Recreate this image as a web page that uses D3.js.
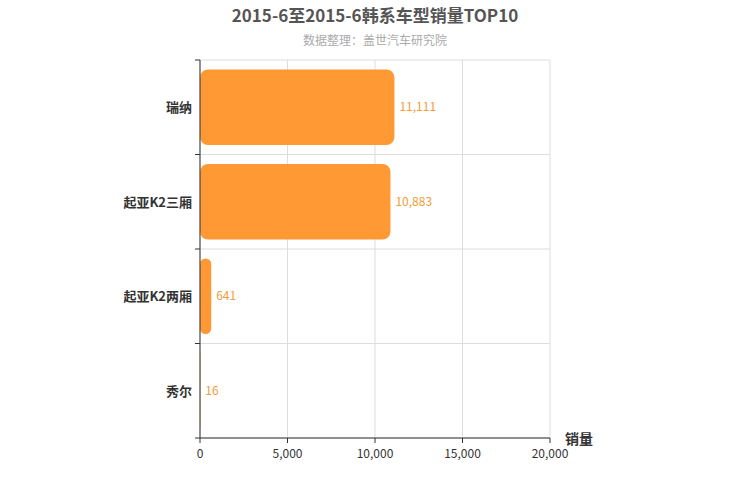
<!DOCTYPE html>
<html><head><meta charset="utf-8">
<script src="https://cdn.jsdelivr.net/npm/d3@7/dist/d3.min.js"></script>
<style>body{margin:0;background:#fff;font-family:"Noto Sans CJK SC","Noto Sans",sans-serif;}</style>
</head><body><div id="vis"></div>
<script>
const categories = ['瑞纳', '起亚K2三厢', '起亚K2两厢', '秀尔'];
const sales = [11111, 10883, 641, 16];
const xTicks = [0, 5000, 10000, 15000, 20000];

const W = 750, H = 500;
const M = {left: 200, right: 200, top: 60, bottom: 62};
const svg = d3.select('#vis').append('svg').attr('width', W).attr('height', H);

const x = d3.scaleLinear().domain([0, 20000]).range([M.left, W - M.right]);
const y = d3.scaleBand().domain(categories).range([M.top, H - M.bottom]).paddingInner(0.2).paddingOuter(0.1);
const step = y.step();
const bandTop = i => M.top + i * ((H - M.bottom - M.top) / categories.length);

// grid
svg.append('g').selectAll('line').data(xTicks).join('line')
  .attr('x1', d => x(d)).attr('x2', d => x(d)).attr('y1', M.top).attr('y2', H - M.bottom)
  .attr('stroke', '#ddd');
svg.append('g').selectAll('line').data(d3.range(categories.length + 1)).join('line')
  .attr('x1', M.left).attr('x2', W - M.right)
  .attr('y1', i => bandTop(i)).attr('y2', i => bandTop(i)).attr('stroke', '#ddd');

// bars
const bh = (H - M.bottom - M.top) / categories.length * 0.8;
svg.append('g').selectAll('rect').data(sales).join('rect')
  .attr('x', x(0)).attr('y', (d, i) => bandTop(i) + (bandTop(1) - bandTop(0) - bh) / 2)
  .attr('width', d => x(d) - x(0)).attr('height', bh)
  .attr('rx', d => Math.min(8, (x(d) - x(0)) / 2)).attr('fill', '#ff9933');
svg.append('g').selectAll('text').data(sales).join('text')
  .attr('x', d => x(d) + 5).attr('y', (d, i) => bandTop(i) + (bandTop(1) - bandTop(0)) / 2 + 4)
  .attr('fill', '#f39c3a').attr('font-size', 12).text(d => d3.format(',')(d));

// axes
svg.append('line').attr('x1', M.left).attr('x2', M.left).attr('y1', M.top).attr('y2', H - M.bottom).attr('stroke', '#333');
svg.append('line').attr('x1', M.left).attr('x2', W - M.right).attr('y1', H - M.bottom).attr('y2', H - M.bottom).attr('stroke', '#333');
svg.append('g').selectAll('line').data(d3.range(categories.length + 1)).join('line')
  .attr('x1', M.left - 5).attr('x2', M.left).attr('y1', i => bandTop(i)).attr('y2', i => bandTop(i)).attr('stroke', '#333');
svg.append('g').selectAll('line').data(xTicks).join('line')
  .attr('x1', d => x(d)).attr('x2', d => x(d)).attr('y1', H - M.bottom).attr('y2', H - M.bottom + 5).attr('stroke', '#333');
svg.append('g').selectAll('text').data(categories).join('text')
  .attr('x', M.left - 8).attr('y', (d, i) => bandTop(i) + (bandTop(1) - bandTop(0)) / 2 + 5)
  .attr('text-anchor', 'end').attr('font-size', 13).attr('font-weight', 'bold').attr('fill', '#333').text(d => d);
svg.append('g').selectAll('text').data(xTicks).join('text')
  .attr('x', d => x(d)).attr('y', H - M.bottom + 20).attr('text-anchor', 'middle')
  .attr('font-size', 12).attr('fill', '#333').text(d => d3.format(',')(d));
svg.append('text').attr('x', 565).attr('y', 444).attr('font-size', 14).attr('font-weight', 'bold').attr('fill', '#333').text('销量');

svg.append('text').attr('x', W / 2).attr('y', 22).attr('text-anchor', 'middle')
  .attr('font-size', 17).attr('font-weight', 'bold').attr('fill', '#555').text('2015-6至2015-6韩系车型销量TOP10');
svg.append('text').attr('x', W / 2).attr('y', 45).attr('text-anchor', 'middle')
  .attr('font-size', 12).attr('fill', '#aaa').text('数据整理：盖世汽车研究院');
</script></body></html>
